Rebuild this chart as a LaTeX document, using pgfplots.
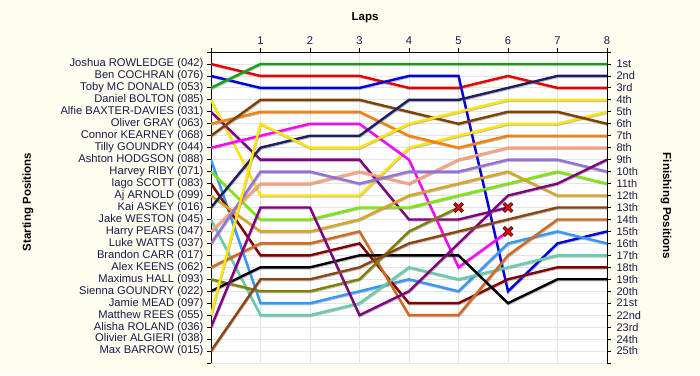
\documentclass[border=0pt]{standalone}
\usepackage{pgfplots}
\usepackage{pgfplotstable}
\pgfplotsset{compat=1.18}
\usepackage{fontspec}
\setmainfont{Liberation Sans}

\definecolor{bgcream}{HTML}{FEFDF0}
\definecolor{txt}{HTML}{1A1A4A}
\definecolor{gridc}{HTML}{E4E4E4}
\definecolor{cGreen}{HTML}{14A014}
\definecolor{cRed}{HTML}{E60000}
\definecolor{cBlue}{HTML}{0000E0}
\definecolor{cYellow}{HTML}{FFE600}
\definecolor{cPurple}{HTML}{800080}
\definecolor{cOrange}{HTML}{FF8000}
\definecolor{cBrownC}{HTML}{804000}
\definecolor{cMagenta}{HTML}{FF00FF}
\definecolor{cLBlue}{HTML}{3399FF}
\definecolor{cLime}{HTML}{7CE800}
\definecolor{cMaroon}{HTML}{800000}
\definecolor{cGold}{HTML}{DAA520}
\definecolor{cNavy}{HTML}{1E1E64}
\definecolor{cTeal}{HTML}{66CDAA}
\definecolor{cSalmon}{HTML}{FFA07A}
\definecolor{cMPurple}{HTML}{9370DB}
\definecolor{cChoc}{HTML}{D2691E}
\definecolor{cOlive}{HTML}{808000}
\definecolor{cBrownM}{HTML}{8B4513}

\pgfplotstableread{
lap Toby Joshua Ben Daniel Alfie Oliver Connor Tilly Ashton Harvey Iago Aj Kai Jake Harry Luke Alex Maximus Sienna Matthew Alisha Max
0 3 1 2 4 5 6 7 8 9 10 11 12 13 14 15 16 18 19 20 22 23 25
1 1 2 3 12 9 5 4 7 21 14 17 15 8 22 11 10 16 20 18 6 13 19
2 1 2 3 12 9 5 4 6 21 14 17 15 7 22 11 10 16 20 18 8 13 19
3 1 2 3 12 9 5 4 6 20 13 16 14 7 21 10 11 15 19 17 8 22 18
4 1 3 2 8 14 7 5 9 19 13 21 12 4 18 11 10 22 15 17 6 20 16
5 1 3 2 7 14 8 6 18 20 12 21 11 4 19 9 10 22 13 17 5 16 15
6 1 2 20 6 13 7 5 15 16 11 19 10 3 18 8 9 17 nan 21 4 12 14
7 1 3 16 6 nan 7 5 nan 15 10 18 12 2 17 8 9 14 nan 19 4 11 13
8 1 3 15 5 nan 7 6 nan 16 11 18 12 2 17 8 10 14 nan 19 4 9 13
}\data

\pgfplotstableread{
lap pos
5 13
6 13
6 15
}\retired

\newcommand{\drv}[2]{%
  \addplot[mark=none, black!55, opacity=0.45, line width=2.4pt, transform canvas={xshift=0.5pt,yshift=-1pt}] table[x=lap,y=#1]{\data};
  \addplot[mark=none, #2, line width=2.4pt] table[x=lap,y=#1]{\data};
}

\begin{document}
\begin{tikzpicture}[x=1pt,y=1pt]
\fill[bgcream] (0,0) rectangle (700,375);
\useasboundingbox (0,0) rectangle (700,375);
\begin{axis}[
  at={(211pt,12pt)}, anchor=south west,
  scale only axis, width=396pt, height=311pt,
  xmin=0, xmax=8, ymin=0, ymax=26, y dir=reverse,
  axis background/.style={fill=white},
  axis x line*=top, axis y line*=left,
  axis line style={black, line width=0.9pt},
  tick align=outside, major tick length=4pt,
  tick style={black, line width=0.8pt},
  xtick={0,...,8}, xticklabels={,1,2,3,4,5,6,7,8},
  ytick={0,...,26},
  yticklabels={,{Joshua ROWLEDGE (042)},{Ben COCHRAN (076)},{Toby MC DONALD (053)},{Daniel BOLTON (085)},{Alfie BAXTER-DAVIES (031)},{Oliver GRAY (063)},{Connor KEARNEY (068)},{Tilly GOUNDRY (044)},{Ashton HODGSON (088)},{Harvey RIBY (071)},{Iago SCOTT (083)},{Aj ARNOLD (099)},{Kai ASKEY (016)},{Jake WESTON (045)},{Harry PEARS (047)},{Luke WATTS (037)},{Brandon CARR (017)},{Alex KEENS (062)},{Maximus HALL (093)},{Sienna GOUNDRY (022)},{Jamie MEAD (097)},{Matthew REES (055)},{Alisha ROLAND (036)},{Olivier ALGIERI (038)},{Max BARROW (015)},},
  tick label style={font=\fontsize{11.2}{13}\selectfont, text=txt},
  /pgf/number format/assume math mode=true,
  grid=major, major grid style={gridc, line width=0.8pt},
  unbounded coords=jump,
]
\drv{Joshua}{cRed}
\drv{Ben}{cBlue}
\drv{Toby}{cGreen}
\drv{Daniel}{cYellow}
\drv{Alfie}{cPurple}
\drv{Oliver}{cOrange}
\drv{Connor}{cBrownC}
\drv{Tilly}{cMagenta}
\drv{Ashton}{cLBlue}
\drv{Harvey}{cLime}
\drv{Iago}{cMaroon}
\drv{Aj}{cGold}
\drv{Kai}{cNavy}
\drv{Jake}{cTeal}
\drv{Harry}{cSalmon}
\drv{Luke}{cMPurple}
\drv{Alex}{cChoc}
\drv{Maximus}{cOlive}
\drv{Sienna}{black}
\drv{Matthew}{cYellow}
\drv{Alisha}{cPurple}
\drv{Max}{cBrownM}
\addplot[only marks, draw=none, mark=x, mark size=6pt, mark options={draw=black, line width=3.3pt, solid}] table[x=lap,y=pos]{\retired};
\addplot[only marks, draw=none, mark=x, mark size=5.6pt, mark options={draw=red, line width=1.9pt, solid}] table[x=lap,y=pos]{\retired};
\end{axis}
\begin{axis}[
  at={(211pt,12pt)}, anchor=south west,
  scale only axis, width=396pt, height=311pt,
  xmin=0, xmax=8, ymin=0, ymax=26, y dir=reverse,
  axis x line=none, axis y line*=right,
  axis line style={black, line width=0.9pt},
  tick align=outside, major tick length=4pt,
  tick style={black, line width=0.8pt},
  ytick={0,...,26},
  yticklabels={,1st,2nd,3rd,4th,5th,6th,7th,8th,9th,10th,11th,12th,13th,14th,15th,16th,17th,18th,19th,20th,21st,22nd,23rd,24th,25th,},
  yticklabel style={xshift=2pt},
  tick label style={font=\fontsize{11}{13}\selectfont, text=txt},
]
\addplot[draw=none, mark=none] coordinates {(0,0)};
\end{axis}
\node[font=\bfseries\fontsize{11.5}{13}\selectfont, text=black] at (365,357) {Laps};
\node[rotate=90, font=\bfseries\fontsize{11.5}{13}\selectfont, text=black] at (28,173) {Starting Positions};
\node[rotate=-90, font=\bfseries\fontsize{11.5}{13}\selectfont, text=black] at (666,169) {Finishing Positions};
\end{tikzpicture}
\end{document}
